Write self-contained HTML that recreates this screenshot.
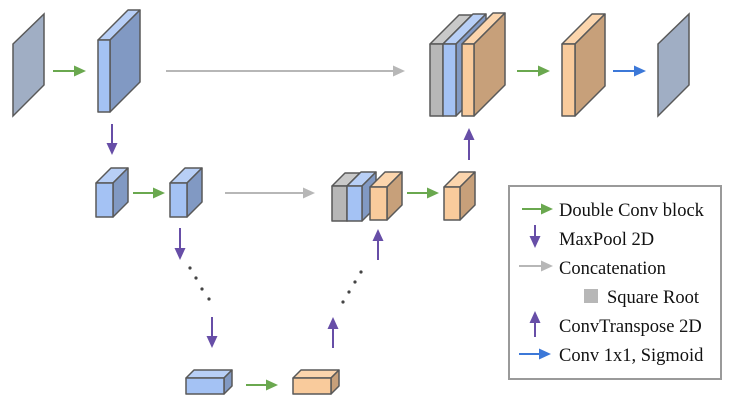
<!DOCTYPE html>
<html><head><meta charset="utf-8"><style>
html,body{margin:0;padding:0;background:#fff;width:742px;height:412px;overflow:hidden}
svg text{font-family:"Liberation Serif",serif;font-size:18.5px;fill:#111}
</style></head><body>
<svg id="s" width="742" height="412" viewBox="0 0 742 412" xmlns="http://www.w3.org/2000/svg">
<g id="g"></g>
<rect x="509" y="186" width="212" height="193" fill="none" stroke="#9a9a9a" stroke-width="2"/>
<text x="559" y="216">Double Conv block</text>
<text x="559" y="245">MaxPool 2D</text>
<text x="559" y="274">Concatenation</text>
<rect x="584" y="289" width="14" height="14" fill="#b7b7b7"/>
<text x="607" y="303">Square Root</text>
<text x="559" y="332">ConvTranspose 2D</text>
<text x="559" y="361">Conv 1x1, Sigmoid</text>
</svg>
<script>
var g=document.getElementById('g'),h='';
var C={b:['#a4c2f4','#b8cff6','#8199c3'],o:['#f9cb9c','#fbd5ad','#c7a07a'],k:['#b7b7b7','#c9c9c9','#9a9a9a']};
function box(x,y,w,hh,d,c){var f=C[c];var st=' stroke="#595959" stroke-width="1.5" stroke-linejoin="round"';
h+='<polygon points="'+x+','+y+' '+(x+d)+','+(y-d)+' '+(x+w+d)+','+(y-d)+' '+(x+w)+','+y+'" fill="'+f[1]+'"'+st+'/>';
h+='<polygon points="'+(x+w)+','+y+' '+(x+w+d)+','+(y-d)+' '+(x+w+d)+','+(y+hh-d)+' '+(x+w)+','+(y+hh)+'" fill="'+f[2]+'"'+st+'/>';
h+='<rect x="'+x+'" y="'+y+'" width="'+w+'" height="'+hh+'" fill="'+f[0]+'"'+st+'/>';}
function plane(x,y){h+='<polygon points="'+x+','+(y+30)+' '+(x+31)+','+y+' '+(x+31)+','+(y+71)+' '+x+','+(y+102)+'" fill="#a0aec4" stroke="#595959" stroke-width="1.5"/>';}
function ah(x1,y1,x2,y2,col){var dx=x2-x1,dy=y2-y1,L=Math.hypot(dx,dy),ux=dx/L,uy=dy/L,hl=12,hw=5.5;
var bx=x2-ux*hl,by=y2-uy*hl;
h+='<line x1="'+x1+'" y1="'+y1+'" x2="'+bx+'" y2="'+by+'" stroke="'+col+'" stroke-width="2"/>';
h+='<polygon points="'+x2+','+y2+' '+(bx-uy*hw)+','+(by+ux*hw)+' '+(bx+uy*hw)+','+(by-ux*hw)+'" fill="'+col+'"/>';}
function dot(x,y){h+='<circle cx="'+x+'" cy="'+y+'" r="1.6" fill="#444"/>';}
var G='#6aa84f',P='#674ea7',K='#b7b7b7',B='#3c78d8';
plane(13,14);
ah(53,71,86,71,G);
box(98,40,12,72,30,'b');
ah(166,71,405,71,K);
ah(112,124,112,155,P);
box(96,183,17,34,15,'b');
ah(133,193,165,193,G);
box(170,183,17,34,15,'b');
ah(225,193,315,193,K);
ah(180,228,180,260,P);
dot(190,268);dot(196,278);dot(202,289);dot(209,299);
ah(212,317,212,348,P);
box(186,378,38,16,8,'b');
ah(246,385,278,385,G);
box(293,378,38,16,8,'o');
ah(333,348,333,317,P);
dot(343,302);dot(349,292);dot(355,282);dot(361,272);
ah(378,260,378,229,P);
box(332,186,15,35,13,'k');
box(347,186,15,35,14,'b');
box(370,187,17,33,15,'o');
ah(407,193,439,193,G);
box(444,187,16,33,15,'o');
ah(469,160,469,128,P);
box(430,44,13,72,29,'k');
box(443,44,13,72,30,'b');
box(462,44,12,72,31,'o');
ah(517,71,550,71,G);
box(562,44,13,72,30,'o');
ah(613,71,646,71,B);
plane(658,14);
ah(522,209,553,209,G);
ah(535,225,535,248,P);
ah(519,266,553,266,K);
ah(535,337,535,311,P);
ah(519,354,551,354,B);
g.innerHTML=h;
</script>
</body></html>
